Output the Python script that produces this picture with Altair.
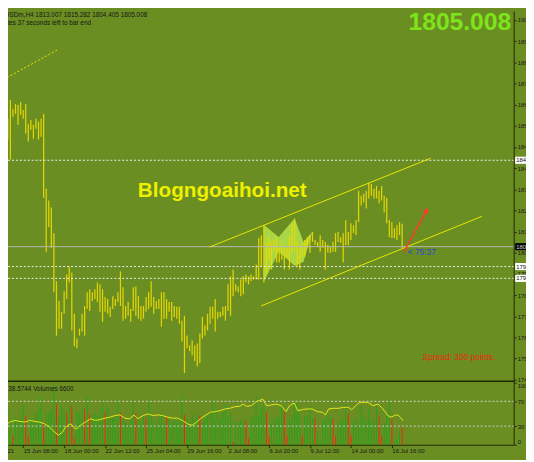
import altair as alt
import pandas as pd

# ---------------- data ----------------
HI = [1879.6, 1875.2, 1866.8, 1862.4, 1870.8, 1866.8, 1869.0, 1868.6, 1869.9, 1866.4,
      1869.0, 1860.2, 1861.9, 1859.7, 1862.4, 1861.1, 1862.4, 1864.6, 1831.0, 1825.7,
      1822.6, 1811.1, 1789.5, 1780.6, 1775.8, 1785.0, 1792.5, 1796.1, 1793.4, 1774.9,
      1763.8, 1768.2, 1774.9, 1778.4, 1784.6, 1785.9, 1784.6, 1785.9, 1789.0, 1788.1,
      1785.9, 1782.4, 1781.5, 1778.0, 1782.8, 1781.5, 1784.6, 1793.9, 1786.8, 1778.4,
      1780.2, 1777.1, 1786.8, 1787.2, 1782.8, 1778.4, 1778.4, 1782.4, 1784.6, 1789.5,
      1782.4, 1780.6, 1781.5, 1784.6, 1784.6, 1781.5, 1780.2, 1780.2, 1778.4, 1778.0,
      1778.0, 1771.8, 1774.0, 1765.1, 1760.7, 1762.9, 1760.7, 1761.6, 1766.0, 1773.5,
      1769.6, 1774.9, 1778.0, 1778.0, 1781.5, 1775.8, 1775.8, 1778.0, 1778.4, 1788.1,
      1791.7, 1794.8, 1788.1, 1787.2, 1790.3, 1791.7, 1792.5, 1791.7, 1792.5, 1791.7,
      1797.0, 1808.9, 1810.2, 1814.6, 1807.1, 1809.3, 1807.1, 1808.0, 1809.3, 1804.9,
      1806.7, 1804.5, 1804.5, 1809.3, 1815.5, 1817.7, 1807.1, 1804.9, 1806.7, 1808.0,
      1809.3, 1810.2, 1811.6, 1808.0, 1807.1, 1810.2, 1808.0, 1807.1, 1805.8, 1804.9,
      1807.1, 1811.1, 1811.6, 1809.3, 1811.1, 1816.9, 1811.6, 1815.5, 1814.6, 1816.9,
      1830.1, 1827.9, 1828.8, 1830.1, 1833.7, 1833.2, 1831.0, 1832.3, 1830.1, 1832.3,
      1827.9, 1827.0, 1816.9, 1816.0, 1813.3, 1814.6, 1816.0, 1815.3]
LO = [1874.3, 1864.6, 1857.5, 1853.1, 1844.3, 1863.3, 1864.6, 1859.7, 1864.2, 1862.4,
      1855.8, 1852.2, 1857.5, 1853.5, 1858.0, 1853.1, 1854.4, 1827.0, 1802.7, 1813.8,
      1804.5, 1784.6, 1765.1, 1768.2, 1768.2, 1774.9, 1781.5, 1789.0, 1767.4, 1760.3,
      1759.4, 1765.1, 1766.9, 1765.1, 1777.1, 1776.2, 1780.6, 1781.5, 1780.2, 1775.8,
      1771.3, 1775.8, 1774.9, 1773.5, 1777.1, 1778.4, 1780.2, 1778.4, 1771.8, 1772.7,
      1774.0, 1771.3, 1776.2, 1774.0, 1772.7, 1771.8, 1772.7, 1775.8, 1777.1, 1778.0,
      1774.9, 1777.1, 1777.1, 1769.1, 1772.7, 1772.7, 1775.8, 1771.8, 1773.5, 1772.7,
      1770.4, 1762.5, 1748.3, 1759.4, 1758.1, 1756.3, 1753.7, 1751.4, 1752.8, 1763.8,
      1765.1, 1767.4, 1770.4, 1772.7, 1766.9, 1772.7, 1773.5, 1774.0, 1771.8, 1776.2,
      1774.0, 1782.8, 1785.0, 1784.6, 1782.8, 1783.7, 1789.0, 1788.1, 1789.5, 1790.3,
      1790.3, 1790.3, 1796.1, 1789.0, 1793.4, 1799.2, 1794.8, 1802.3, 1797.9, 1797.9,
      1799.2, 1794.8, 1800.1, 1794.8, 1802.7, 1803.6, 1796.1, 1794.8, 1800.1, 1800.5,
      1804.5, 1802.3, 1807.1, 1805.8, 1804.9, 1802.7, 1804.5, 1794.8, 1802.3, 1802.3,
      1802.7, 1802.7, 1807.1, 1806.7, 1797.9, 1805.8, 1805.8, 1808.0, 1811.1, 1810.2,
      1816.0, 1823.5, 1824.8, 1822.2, 1826.6, 1827.9, 1826.6, 1826.6, 1824.4, 1825.7,
      1820.4, 1815.5, 1809.3, 1808.9, 1808.9, 1808.0, 1810.2, 1804.4]

VOL = [30, 31, 66, 63, 39, 15, 44, 39, 44, 63,
       47, 15, 42, 36, 52, 58, 76, 36, 52, 52,
       58, 95, 66, 47, 63, 52, 52, 63, 63, 10,
       52, 52, 58, 58, 76, 50, 47, 52, 47, 55,
       71, 52, 58, 47, 44, 42, 68, 52, 42, 36,
       31, 42, 66, 50, 42, 36, 47, 44, 68, 47,
       39, 31, 42, 50, 36, 44, 42, 36, 42, 36,
       42, 79, 48, 42, 36, 47, 42, 52, 47, 36,
       42, 47, 52, 71, 42, 58, 42, 52, 63, 47,
       52, 5, 36, 36, 39, 39, 39, 10, 42, 47,
       79, 47, 60, 68, 52, 15, 36, 42, 44, 47,
       63, 52, 15, 42, 47, 66, 68, 52, 15, 47,
       47, 63, 42, 42, 21, 7, 39, 42, 50, 44,
       42, 13, 36, 39, 42, 68, 50, 15, 37, 44,
       31, 63, 47, 42, 58, 36, 42, 63, 47, 15,
       36, 47, 68, 42, 7, 11, 23, 28]
VOL_RED = [5, 10, 11, 17, 22, 26, 28, 29, 33, 35, 41, 47, 53, 57, 65, 72, 78, 91, 96, 97,
           104, 105, 111, 112, 118, 123, 130, 131, 136, 137, 148, 149, 153, 157]

RSI_I = [0, 1.9, 3.8, 5.8, 7.7, 9.6, 11.5, 13.5, 15.4, 17.3, 19.2, 21.2, 22.8, 24.4, 25.6,
         27.6, 29.5, 31.4, 33.3, 35.3, 37.2, 39.1, 41, 42.9, 44.9, 46.8, 48.7, 50.6, 52.3,
         53.8, 55.8, 57.7, 59.6, 61.5, 63.5, 65.4, 67.3, 69.2, 71.2, 73.1, 75, 76.7, 78.2,
         80.1, 82.1, 84, 85.9, 87.8, 89.7, 91.7, 93.6, 94.9, 96.2, 98.1, 100, 102.6, 104,
         105.9, 107.8, 109.8, 111.7, 113, 114.9, 116.2, 118.1, 120, 121.9, 123.9, 125.8,
         127.1, 128.3, 130.3, 132.2, 134.1, 136, 137.3, 139.2, 140.5, 142.4, 143.7, 145.6,
         147.6, 149.5, 151.4, 152.7, 154, 155.3, 156.3, 157.3]
RSI_V = [36.5, 31.2, 36.5, 39.2, 37.6, 36.5, 39.2, 37.6, 36.5, 33.9, 28.6, 20.6, 15.3, 20.6,
         28.6, 33.9, 24.9, 31.2, 36.5, 41.8, 39.2, 40.7, 42.9, 44.4, 47.1, 48.1, 42.9, 41.8,
         48.1, 41.8, 47.1, 49.7, 47.1, 48.1, 47.1, 44.4, 42.9, 42.9, 39.2, 33.9, 31.2, 36.5,
         41.8, 47.1, 52.4, 53.4, 55.0, 57.7, 58.7, 61.4, 61.9, 65.6, 61.9, 63.0, 69.3, 73.5,
         63.0, 64.0, 65.6, 63.0, 53.4, 63.0, 67.2, 55.0, 56.6, 57.7, 57.7, 53.4, 52.4, 48.1,
         57.7, 58.7, 58.7, 60.3, 60.3, 56.6, 64.0, 68.3, 68.3, 68.3, 63.0, 65.6, 57.7, 47.1,
         44.4, 47.1, 48.1, 44.4, 38.6]

PRICE_TICKS = [1906.8, 1897.3, 1887.8, 1878.3, 1868.8, 1859.3, 1849.8, 1840.3, 1830.8,
               1821.3, 1811.8, 1802.3, 1792.8, 1783.3, 1773.8, 1764.3, 1754.8, 1745.3]
PRICE_LABELS = ["1906.80", "1897.30", "1887.80", "1878.30", "1868.80", "1859.30", "1849.80",
                "1840.30", "1830.80", "1821.30", "1811.80", "1802.30", "1792.80", "1783.30",
                "1773.80", "1764.30", "1754.80", "1745.30"]
IND_TICKS = [0, 30, 70, 100]
IND_LEVELS = [30, 70]
TIME_TICKS = [9, 25, 41, 57, 73, 89, 105, 121, 137, 153]
TIME_LABELS = ["15 Jun 08:00", "18 Jun 00:00", "22 Jun 12:00", "25 Jun 04:00", "29 Jun 16:00",
               "2 Jul 08:00", "6 Jul 20:00", "9 Jul 12:00", "14 Jul 00:00", "16 Jul 16:00"]

LEVELS = [1843.8, 1796.1, 1790.8]
LEVEL_LABELS = ["1843.80", "1796.10", "1790.80"]
BID = 1805.008
BID_LABEL = "1805.00"

TREND_I = [81.9, 168.1, 101.9, 188.1]
TREND_P = [1804.9, 1844.7, 1778.4, 1818.6]
TREND_G = ["up", "up", "lo", "lo"]
DOT_I = [0.0, 22.3]
DOT_P = [1879.2, 1893.3]
ARROW_I = [157.7, 166.5]
ARROW_P = [1802.7, 1821.3]
PAT_I = [103.1, 108.8, 115.0, 118.5, 121.9]
PAT_TOP = [1814.7, 1809.4, 1817.7, 1807.1, 1811.6]
PAT_BOT = [1789.5, 1802.7, 1796.5, 1798.3, 1811.6]

# ---------------- styling ----------------
BG = "#6b8e23"
DARK = "#1f2808"
TXT = "#161616"
FONT = "Liberation Sans"
BAR_C = "#ead900"
LINE_Y = "#e8e800"
W, H = 514, 440
X_DOMAIN = [3.08, 200.77]
P_DOMAIN = [1744.85, 1910.6]


def lookup_expr(vals, labels):
    v = ",".join(repr(x) for x in vals)
    l = ",".join("'" + s + "'" for s in labels)
    return f"[{l}][indexof([{v}], datum.value)]"


X_AXIS = alt.Axis(values=TIME_TICKS, labelExpr=lookup_expr(TIME_TICKS, TIME_LABELS), title=None,
                  orient="bottom", labelAlign="left", labelFlush=False, labelOverlap=False,
                  labelPadding=0, tickSize=3, tickColor=DARK, domainColor=DARK,
                  labelColor=TXT, labelFont=FONT, labelFontSize=6, labelBaseline="top", grid=False)


def X(field="i"):
    return alt.X(f"{field}:Q", scale=alt.Scale(domain=X_DOMAIN, nice=False, zero=False), axis=X_AXIS)


def YP(field, axis=None):
    return alt.Y(f"{field}:Q", scale=alt.Scale(domain=P_DOMAIN, range=[375, 0], nice=False, zero=False),
                 axis=axis)


def YI(field, axis=None):
    return alt.Y(f"{field}:Q", scale=alt.Scale(domain=[0, 100], range=[440, 377], nice=False, zero=False),
                 axis=axis)


price_axis = alt.Axis(orient="right", values=PRICE_TICKS, labelExpr=lookup_expr(PRICE_TICKS, PRICE_LABELS),
                      title=None, domain=False, grid=False, tickSize=2, tickColor=DARK, labelColor=TXT,
                      labelFont=FONT, labelFontSize=6, labelPadding=1, labelOverlap=False)
ind_axis = alt.Axis(orient="right", values=IND_TICKS, title=None, domain=False, grid=False, tickSize=2,
                    tickColor=DARK, labelColor=TXT, labelFont=FONT, labelFontSize=6, labelPadding=1,
                    labelOverlap=False, labelFlush=True)

bars = pd.DataFrame({"i": list(range(len(HI))), "hi": HI, "lo": LO})
vol = pd.DataFrame({"i": list(range(len(VOL))), "v": VOL, "z": [0] * len(VOL),
                    "c": ["#f0280f" if k in VOL_RED else "#1fa51f" for k in range(len(VOL))]})
rsi = pd.DataFrame({"i": RSI_I, "v": RSI_V})
levels = pd.DataFrame({"p": LEVELS})
bid = pd.DataFrame({"p": [BID]})
ind_lv = pd.DataFrame({"v": IND_LEVELS})
trend = pd.DataFrame({"i": TREND_I, "p": TREND_P, "g": TREND_G})
dots = pd.DataFrame({"i": DOT_I, "p": DOT_P})
arrow = pd.DataFrame({"i": ARROW_I, "p": ARROW_P})
pat = pd.DataFrame({"i": PAT_I, "top": PAT_TOP, "bot": PAT_BOT})
boxes = pd.DataFrame({"p": LEVELS + [BID], "t": LEVEL_LABELS + [BID_LABEL],
                      "fill": ["#ffffff"] * 3 + ["#000000"], "tc": ["#111111"] * 3 + ["#d8d8d8"]})
one = pd.DataFrame({"a": [0]})

layers = []
layers.append(alt.Chart(pat).mark_area(color="#aedb48", opacity=0.95, interpolate="linear")
              .encode(x=X(), y=YP("top"), y2=alt.Y2("bot")))
layers.append(alt.Chart(bars).mark_rule(color=BAR_C, strokeWidth=1.25, opacity=0.95)
              .encode(x=X(), y=YP("lo", price_axis), y2=alt.Y2("hi")))
layers.append(alt.Chart(levels).mark_rule(color="#eeeeee", strokeDash=[2, 2], strokeWidth=1)
              .encode(y=YP("p")))
layers.append(alt.Chart(bid).mark_rule(color="#b8b8b8", strokeWidth=1).encode(y=YP("p")))
layers.append(alt.Chart(trend).mark_line(color=LINE_Y, strokeWidth=1)
              .encode(x=X(), y=YP("p"), detail="g:N"))
layers.append(alt.Chart(dots).mark_line(color=LINE_Y, strokeWidth=1, strokeDash=[2, 2])
              .encode(x=X(), y=YP("p")))
layers.append(alt.Chart(arrow).mark_line(color="#ff3a2a", strokeWidth=1.5)
              .encode(x=X(), y=YP("p")))
layers.append(alt.Chart(arrow.iloc[[1]]).mark_point(shape="triangle-up", angle=28.5, filled=True, size=40,
                                                  color="#ff3a2a", opacity=1)
              .encode(x=X(), y=YP("p")))


def text_layer(i, p, t, scale="p", **kw):
    df = pd.DataFrame({"i": [i], "p": [p], "t": [t]})
    y = YP("p") if scale == "p" else YI("p")
    return alt.Chart(df).mark_text(font=FONT, **kw).encode(x=X(), y=y, text="t:N")


layers.append(text_layer(-3.3, 1909.0, "XAUUSDm,H4 1813.007 1815.282 1804.405 1805.008",
                         align="left", baseline="middle", fontSize=6.5, color=TXT))
layers.append(text_layer(-2.65, 1905.5, "minutes 37 seconds left to bar end",
                         align="left", baseline="middle", fontSize=6.5, color=TXT))
layers.append(text_layer(199.6, 1902.2, "1805.008", align="right", baseline="alphabetic",
                         fontSize=25, fontWeight="bold", color="#7ee41a"))
layers.append(text_layer(53.8, 1827.5, "Blogngoaihoi.net", align="left", baseline="alphabetic",
                         fontSize=21, fontWeight="bold", color="#eef000"))
layers.append(text_layer(159.2, 1802.5, "< 75:37", align="left", baseline="middle",
                         fontSize=8.5, color="#2848d8"))
layers.append(text_layer(165.0, 1754.1, "Spread: 300 points.", align="left", baseline="alphabetic",
                         fontSize=8.5, color="#e82a10"))

# indicator window
layers.append(alt.Chart(vol).mark_rule(strokeWidth=1)
              .encode(x=X(), y=YI("v", ind_axis), y2=alt.Y2("z"), color=alt.Color("c:N", scale=None)))
layers.append(alt.Chart(ind_lv).mark_rule(color="#d0d0d0", strokeDash=[2, 2], strokeWidth=1)
              .encode(y=YI("v")))
layers.append(alt.Chart(rsi).mark_line(color="#e6e61a", strokeWidth=1).encode(x=X(), y=YI("v")))
layers.append(text_layer(-6.1, 90.5, "RSI(14) 38.5744 Volumes 6600", scale="i", align="left",
                         baseline="middle", fontSize=6.5, color=TXT))
layers.append(text_layer(5.4, -10, "11 Jun 2021", scale="i", align="right", baseline="middle",
                         fontSize=6, color=TXT))

# frame
layers.append(alt.Chart(one).mark_rule(color=DARK, strokeWidth=1)
              .encode(x=alt.value(514), y=alt.value(0), y2=alt.value(440)))
layers.append(alt.Chart(one).mark_rule(color=DARK, strokeWidth=1.5)
              .encode(x=alt.value(0), x2=alt.value(514), y=alt.value(375.5)))

# price labels boxes on the axis
layers.append(alt.Chart(boxes).transform_calculate(top="datum.p + 1.6", bot="datum.p - 1.6")
              .mark_rect().encode(x=alt.value(515), x2=alt.value(540), y=YP("top"), y2=alt.Y2("bot"),
                                  color=alt.Color("fill:N", scale=None)))
layers.append(alt.Chart(boxes).mark_text(font=FONT, fontSize=6, align="left", baseline="middle")
              .encode(x=alt.value(516), y=YP("p"), text="t:N", color=alt.Color("tc:N", scale=None)))

chart = (alt.layer(*layers)
         .resolve_scale(y="independent")
         .properties(width=W, height=H, autosize=alt.AutoSizeParams(type="none"),
                     padding={"left": 0, "top": 0, "right": 12, "bottom": 12})
         .configure(background=BG)
         .configure_view(stroke="transparent"))

chart.save("out.html", embed_options={"renderer": "svg", "actions": False})
